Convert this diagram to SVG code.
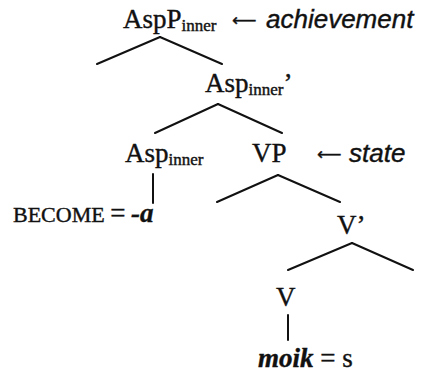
<svg xmlns="http://www.w3.org/2000/svg" width="427" height="376" viewBox="0 0 427 376">
<style>
text{stroke:#111;stroke-width:0.4}
.t{font-family:"Liberation Serif","Times New Roman",serif;font-size:27px;fill:#111}
.sub{font-size:17px}
.s{font-family:"Liberation Sans",Arial,sans-serif;font-size:26px;font-style:italic;fill:#111}
.ar{font-family:"DejaVu Sans","Liberation Sans",sans-serif;font-size:17px;fill:#111}
.sc{font-family:"Liberation Serif","Times New Roman",serif;font-size:22px;fill:#111}
.bi{font-style:italic;font-weight:bold}
.e line{stroke:#111;stroke-width:2;stroke-linecap:round}
</style>
<rect width="427" height="376" fill="#fff"/>
<g class="e" id="connectors">
<line x1="160" y1="37" x2="97" y2="64"/>
<line x1="160" y1="37" x2="222" y2="64"/>
<line x1="218" y1="104" x2="155" y2="133"/>
<line x1="218" y1="104" x2="282" y2="133"/>
<line x1="153" y1="174" x2="153" y2="203"/>
<line x1="278" y1="175" x2="217" y2="202"/>
<line x1="278" y1="175" x2="340" y2="202"/>
<line x1="352" y1="243" x2="288" y2="270"/>
<line x1="352" y1="243" x2="413" y2="270"/>
<line x1="288" y1="315" x2="288" y2="340"/>
</g>
<g id="AspP">
<text class="t" x="123" y="28">AspP<tspan class="sub" dy="3">inner</tspan></text>
<text class="ar" x="232" y="26">⟵</text>
<text class="s" x="266" y="28">achievement</text>
</g>
<g id="AspBar">
<text class="t" x="205" y="92">Asp<tspan class="sub" dy="3">inner</tspan><tspan dy="-3">’</tspan></text>
</g>
<g id="Asp">
<text class="t" x="125" y="162">Asp<tspan class="sub" dy="3">inner</tspan></text>
</g>
<g id="VP">
<text class="t" x="252" y="162">VP</text>
<text class="ar" x="317" y="160">⟵</text>
<text class="s" x="349" y="162">state</text>
</g>
<g id="BECOME">
<text class="sc" x="13" y="222">BECOME <tspan class="t">=</tspan> <tspan class="t bi">-a</tspan></text>
</g>
<g id="Vbar">
<text class="t" x="337" y="234">V’</text>
</g>
<g id="V">
<text class="t" x="276" y="306">V</text>
</g>
<g id="moik">
<text class="t" x="258" y="367"><tspan class="bi">moik</tspan> = s</text>
</g>
</svg>
